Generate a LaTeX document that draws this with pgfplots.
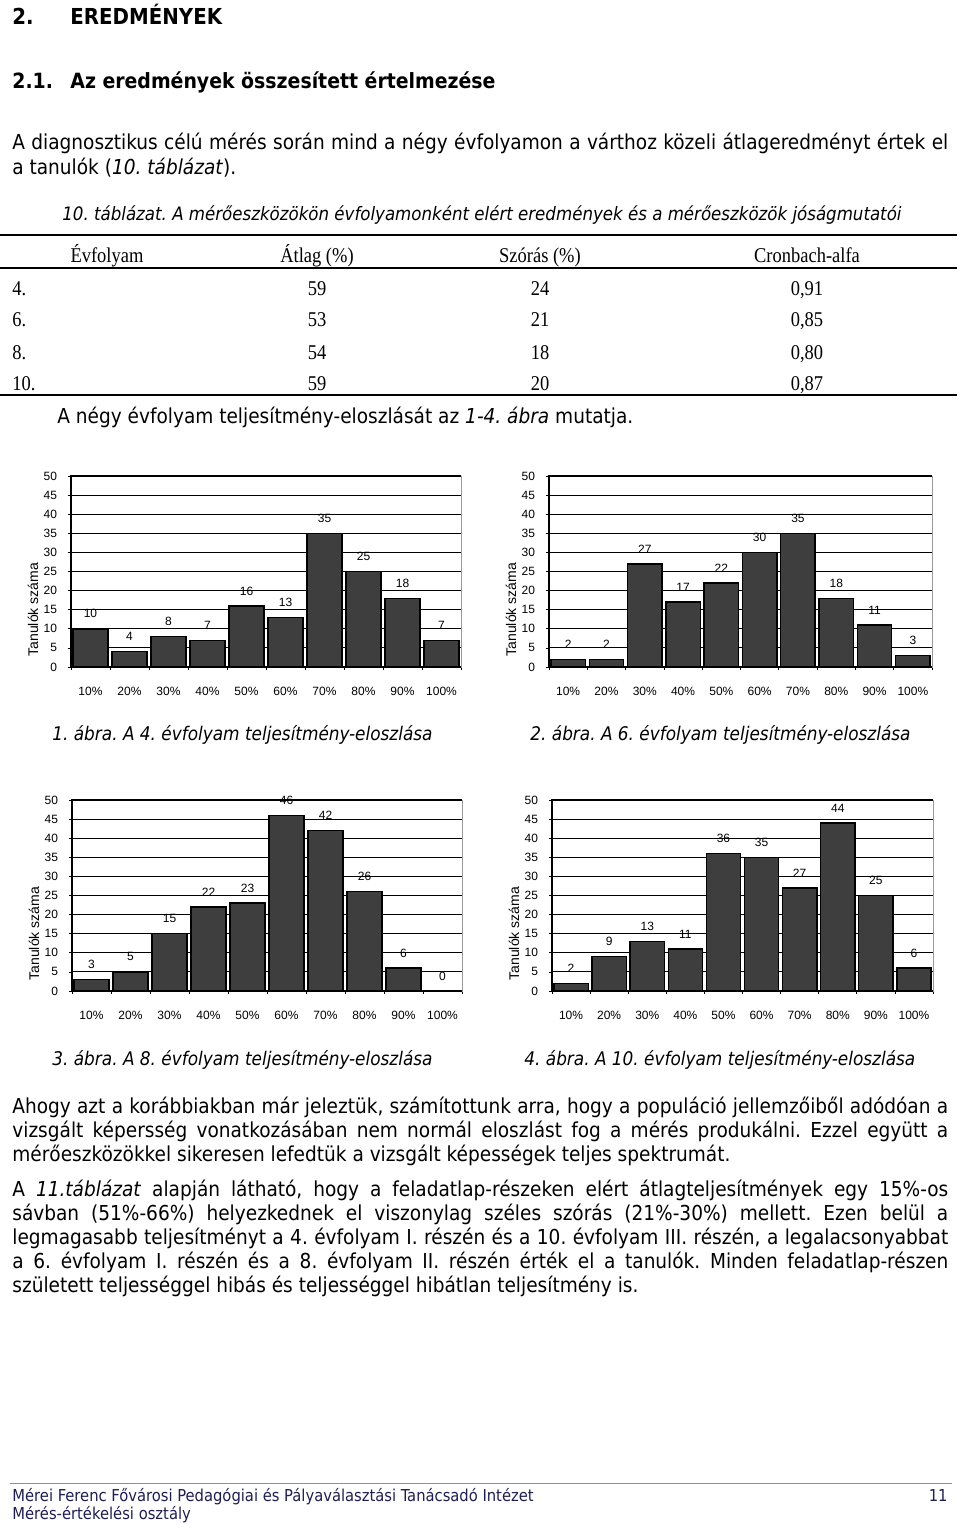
\documentclass[border=0pt]{standalone}
\usepackage{fontspec}
\usepackage{pgfplots}
\pgfplotsset{compat=1.18}
\setmainfont{DejaVu Sans Condensed}
\newfontfamily\tabfont[FakeStretch=0.88]{Liberation Serif}
\newfontfamily\chartfont{Liberation Sans}
\definecolor{barfill}{RGB}{62,62,62}
\definecolor{footblue}{RGB}{30,30,80}
\definecolor{footline}{RGB}{140,140,175}
\frenchspacing
\newcommand\body{\fontsize{10.3}{12}\selectfont}
\newcommand\capf{\fontsize{9.25}{12}\selectfont\itshape}
\newcommand\figcapf{\fontsize{9.4}{12}\selectfont\itshape}
\newcommand\tabf{\tabfont\fontsize{10.5}{12}\selectfont}
\newcommand\jl[1]{\hbox to 468pt{\body #1}}

\pgfplotsset{
  histo/.style={
    scale only axis,
    height=95.5pt,
    xmin=0.5, xmax=10.5,
    ymin=0, ymax=50,
    ytick={0,5,...,50},
    xtick={1,...,10},
    xticklabels={10\%,20\%,30\%,40\%,50\%,60\%,70\%,80\%,90\%,100\%},
    minor xtick={0.5,1.5,...,10.5},
    major x tick style=transparent,
    tick align=outside,
    xtick pos=bottom, ytick pos=left,
    major tick length=1.5pt, minor tick length=1.5pt,
    tick style={black, line width=0.4pt},
    ymajorgrids,
    grid style={black, line width=0.5pt},
    axis line style={draw=gray!80, line width=0.5pt},
    /pgf/number format/assume math mode=true,
    ticklabel style={font=\chartfont\fontsize{6}{7}\selectfont},
    x tick label style={yshift=-5pt},
    y tick label style={xshift=-2pt},
    ylabel={Tanulók száma},
    ylabel style={font=\chartfont\fontsize{7}{8}\selectfont, at={(rel axis cs:0,0.3)}, anchor=center, yshift=19pt},
    ybar, bar width=0.9,
    clip=false,
    nodes near coords,
    every node near coord/.append style={font=\chartfont\fontsize{6}{7}\selectfont, anchor=center, yshift=7.5pt, black},
  },
  histobar/.style={fill=barfill, draw=black, line width=0.7pt},
}
\newcommand\frameaxis{%
  \draw[black, line width=0.6pt] (rel axis cs:1,1) -- (rel axis cs:0,1) -- (rel axis cs:0,0) -- (rel axis cs:1,0);}

\begin{document}
\begin{tikzpicture}
\begin{scope}[x=0.5pt, y=-0.5pt]
\useasboundingbox (0,0) rectangle (960,1524);
% headings
\node[anchor=base west, inner sep=0, font=\fontsize{11}{13}\selectfont\bfseries] at (12,25) {2.};
\node[anchor=base west, inner sep=0, font=\fontsize{11}{13}\selectfont\bfseries] at (70,25) {EREDMÉNYEK};
\node[anchor=base west, inner sep=0, font=\fontsize{10.5}{13}\selectfont\bfseries] at (12,89) {2.1.};
\node[anchor=base west, inner sep=0, font=\fontsize{10.5}{13}\selectfont\bfseries] at (70,89) {Az eredmények összesített értelmezése};
% paragraph 1
\node[anchor=base west, inner sep=0] at (12,150) {\jl{A diagnosztikus célú mérés során mind a négy évfolyamon a várthoz közeli átlageredményt értek el}};
\node[anchor=base west, inner sep=0, font=\body] at (12,175) {a tanulók (\textit{10. táblázat}).};
% table
\node[anchor=base west, inner sep=0, font=\capf] at (62,221) {10. táblázat. A mérőeszközökön évfolyamonként elért eredmények és a mérőeszközök jóságmutatói};
\draw[line width=1.2pt] (0,235) -- (957,235);
\draw[line width=0.9pt] (0,268) -- (957,268);
\draw[line width=1.2pt] (0,395) -- (957,395);
\node[anchor=base, inner sep=0, font=\tabf] at (107,263) {Évfolyam};
\node[anchor=base, inner sep=0, font=\tabf] at (317,263) {Átlag (\%)};
\node[anchor=base, inner sep=0, font=\tabf] at (540,263) {Szórás (\%)};
\node[anchor=base, inner sep=0, font=\tabf] at (807,263) {Cronbach-alfa};
\foreach \g/\a/\s/\c/\yy in {4./59/24/{0,91}/296, 6./53/21/{0,85}/327, 8./54/18/{0,80}/359, 10./59/20/{0,87}/390}{
  \node[anchor=base west, inner sep=0, font=\tabf] at (12,\yy) {\g};
  \node[anchor=base, inner sep=0, font=\tabf] at (317,\yy) {\a};
  \node[anchor=base, inner sep=0, font=\tabf] at (540,\yy) {\s};
  \node[anchor=base, inner sep=0, font=\tabf] at (807,\yy) {\c};
}
\node[anchor=base west, inner sep=0, font=\body] at (57,423) {A négy évfolyam teljesítmény-eloszlását az \textit{1-4. ábra} mutatja.};
% chart captions
\node[anchor=base west, inner sep=0, font=\figcapf] at (52,740) {1. ábra. A 4. évfolyam teljesítmény-eloszlása};
\node[anchor=base west, inner sep=0, font=\figcapf] at (530,740) {2. ábra. A 6. évfolyam teljesítmény-eloszlása};
\node[anchor=base west, inner sep=0, font=\figcapf] at (52,1065) {3. ábra. A 8. évfolyam teljesítmény-eloszlása};
\node[anchor=base west, inner sep=0, font=\figcapf] at (524,1065) {4. ábra. A 10. évfolyam teljesítmény-eloszlása};
% paragraph 2
\node[anchor=base west, inner sep=0] at (12,1113) {\jl{Ahogy azt a korábbiakban már jeleztük, számítottunk arra, hogy a populáció jellemzőiből adódóan a}};
\node[anchor=base west, inner sep=0] at (12,1137) {\jl{vizsgált képersség vonatkozásában nem normál eloszlást fog a mérés produkálni. Ezzel együtt a}};
\node[anchor=base west, inner sep=0, font=\body] at (12,1161) {mérőeszközökkel sikeresen lefedtük a vizsgált képességek teljes spektrumát.};
\node[anchor=base west, inner sep=0] at (12,1196) {\jl{A \textit{11.táblázat} alapján látható, hogy a feladatlap-részeken elért átlagteljesítmények egy 15\%-os}};
\node[anchor=base west, inner sep=0] at (12,1220) {\jl{sávban (51\%-66\%) helyezkednek el viszonylag széles szórás (21\%-30\%) mellett. Ezen belül a}};
\node[anchor=base west, inner sep=0] at (12,1244) {\jl{legmagasabb teljesítményt a 4. évfolyam I. részén és a 10. évfolyam III. részén, a legalacsonyabbat}};
\node[anchor=base west, inner sep=0] at (12,1268) {\jl{a 6. évfolyam I. részén és a 8. évfolyam II. részén érték el a tanulók. Minden feladatlap-részen}};
\node[anchor=base west, inner sep=0, font=\body] at (12,1292) {született teljességgel hibás és teljességgel hibátlan teljesítmény is.};
% footer
\draw[footline, line width=0.5pt] (10,1483) -- (952,1483);
\node[anchor=base west, inner sep=0, font=\fontsize{8.2}{9}\selectfont, text=footblue] at (12,1501) {Mérei Ferenc Fővárosi Pedagógiai és Pályaválasztási Tanácsadó Intézet};
\node[anchor=base west, inner sep=0, font=\fontsize{8.2}{9}\selectfont, text=footblue] at (12,1519) {Mérés-értékelési osztály};
\node[anchor=base east, inner sep=0, font=\fontsize{8.2}{9}\selectfont, text=footblue] at (948,1501) {11};
\end{scope}

% chart 1
\begin{axis}[histo, width=195pt, at={(35.5pt,-333.5pt)}, anchor=south west]
\addplot[histobar] coordinates {(1,10) (2,4) (3,8) (4,7) (5,16) (6,13) (7,35) (8,25) (9,18) (10,7)};
\frameaxis
\end{axis}
% chart 2
\begin{axis}[histo, width=191.5pt, at={(274.5pt,-333.5pt)}, anchor=south west]
\addplot[histobar] coordinates {(1,2) (2,2) (3,27) (4,17) (5,22) (6,30) (7,35) (8,18) (9,11) (10,3)};
\frameaxis
\end{axis}
% chart 3
\begin{axis}[histo, width=195pt, at={(36pt,-495.5pt)}, anchor=south west]
\addplot[histobar] coordinates {(1,3) (2,5) (3,15) (4,22) (5,23) (6,46) (7,42) (8,26) (9,6) (10,0)};
\frameaxis
\end{axis}
% chart 4
\begin{axis}[histo, width=190.5pt, at={(276pt,-495.5pt)}, anchor=south west]
\addplot[histobar] coordinates {(1,2) (2,9) (3,13) (4,11) (5,36) (6,35) (7,27) (8,44) (9,25) (10,6)};
\frameaxis
\end{axis}
\end{tikzpicture}
\end{document}
